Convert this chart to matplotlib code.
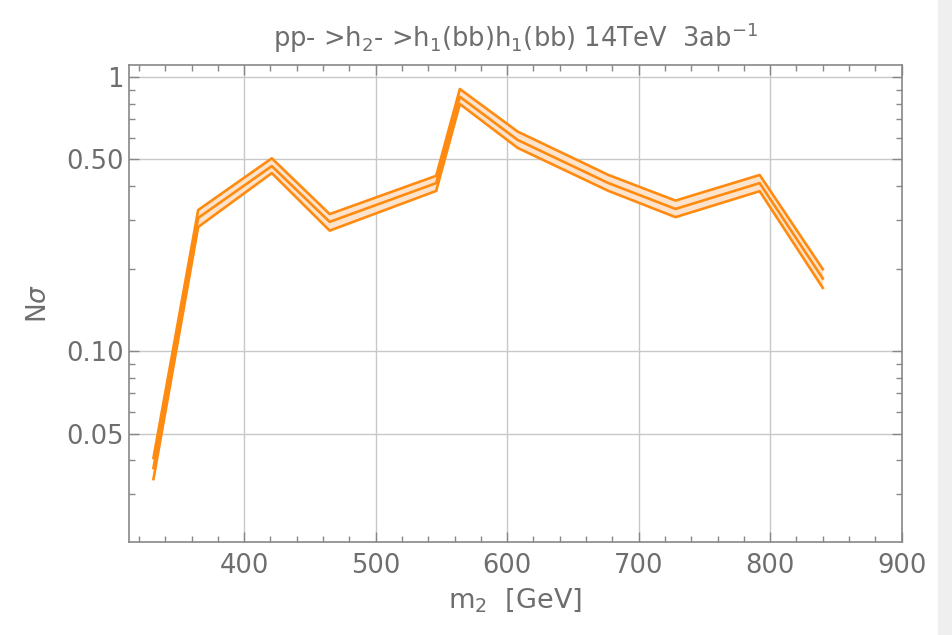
import matplotlib
matplotlib.use("Agg")
import matplotlib.pyplot as plt
from matplotlib.ticker import FixedLocator, MultipleLocator, NullFormatter
from matplotlib.patches import Rectangle

# band data
m2 = [331, 365, 421, 465, 546, 564, 608, 677, 728, 792, 840]
upper = [0.0407, 0.327, 0.505, 0.316, 0.436, 0.904, 0.632, 0.439, 0.354, 0.439, 0.199]
middle = [0.0374, 0.306, 0.473, 0.296, 0.410, 0.847, 0.589, 0.410, 0.330, 0.410, 0.184]
lower = [0.0341, 0.2835, 0.446, 0.275, 0.384, 0.797, 0.551, 0.384, 0.308, 0.383, 0.170]

xticks = [400, 500, 600, 700, 800, 900]
yticks = [0.05, 0.1, 0.5, 1]
ylabels = ["0.05", "0.10", "0.50", "1"]

gray = "#6e6e6e"
orange = "#ff8a10"

fig = plt.figure(figsize=(9.52, 6.35), dpi=100)
fig.patches.append(Rectangle((938 / 952, 0), 14 / 952, 1, transform=fig.transFigure,
                             color="#efefef", zorder=0))
ax = fig.add_axes([129 / 952, 1 - 542 / 635, (901.7 - 129) / 952, (542 - 65) / 635])

ax.fill_between(m2, lower, upper, color="#fde3cb", lw=0, zorder=2)
for s in (upper, middle, lower):
    ax.plot(m2, s, color=orange, lw=1.9, zorder=3)

ax.set_yscale("log")
ax.set_xlim(312.4, 900)
ax.set_ylim(0.0201, 1.106)

ax.xaxis.set_major_locator(FixedLocator(xticks))
ax.xaxis.set_minor_locator(MultipleLocator(20))
ax.yaxis.set_major_locator(FixedLocator(yticks))
ax.set_yticklabels(ylabels)
ax.yaxis.set_minor_locator(FixedLocator([0.02, 0.03, 0.04, 0.06, 0.07, 0.08, 0.09,
                                         0.2, 0.3, 0.4, 0.6, 0.7, 0.8, 0.9]))
ax.yaxis.set_minor_formatter(NullFormatter())

ax.grid(True, which="major", color="#c8c8c8", lw=1, zorder=1)
ax.tick_params(which="both", direction="in", top=True, right=True, colors="#888888",
               labelcolor=gray, labelsize=18.5)
ax.tick_params(which="major", length=7, width=1)
ax.tick_params(which="minor", length=4, width=1)
ax.tick_params(axis="x", pad=8)
ax.tick_params(axis="y", pad=4)
for sp in ax.spines.values():
    sp.set_color("#888888")
    sp.set_linewidth(1.2)

ax.set_title(r"pp- >h$_2$- >h$_1$(bb)h$_1$(bb) 14TeV  3ab$^{-1}$", color=gray,
             fontsize=18.5, pad=13)
ax.set_xlabel(r"m$_2$  [GeV]", color=gray, fontsize=19.5, labelpad=5)
ax.set_ylabel(r"N$\sigma$", color=gray, fontsize=19, labelpad=10)

fig.savefig("out.png", dpi=100, facecolor="white")
